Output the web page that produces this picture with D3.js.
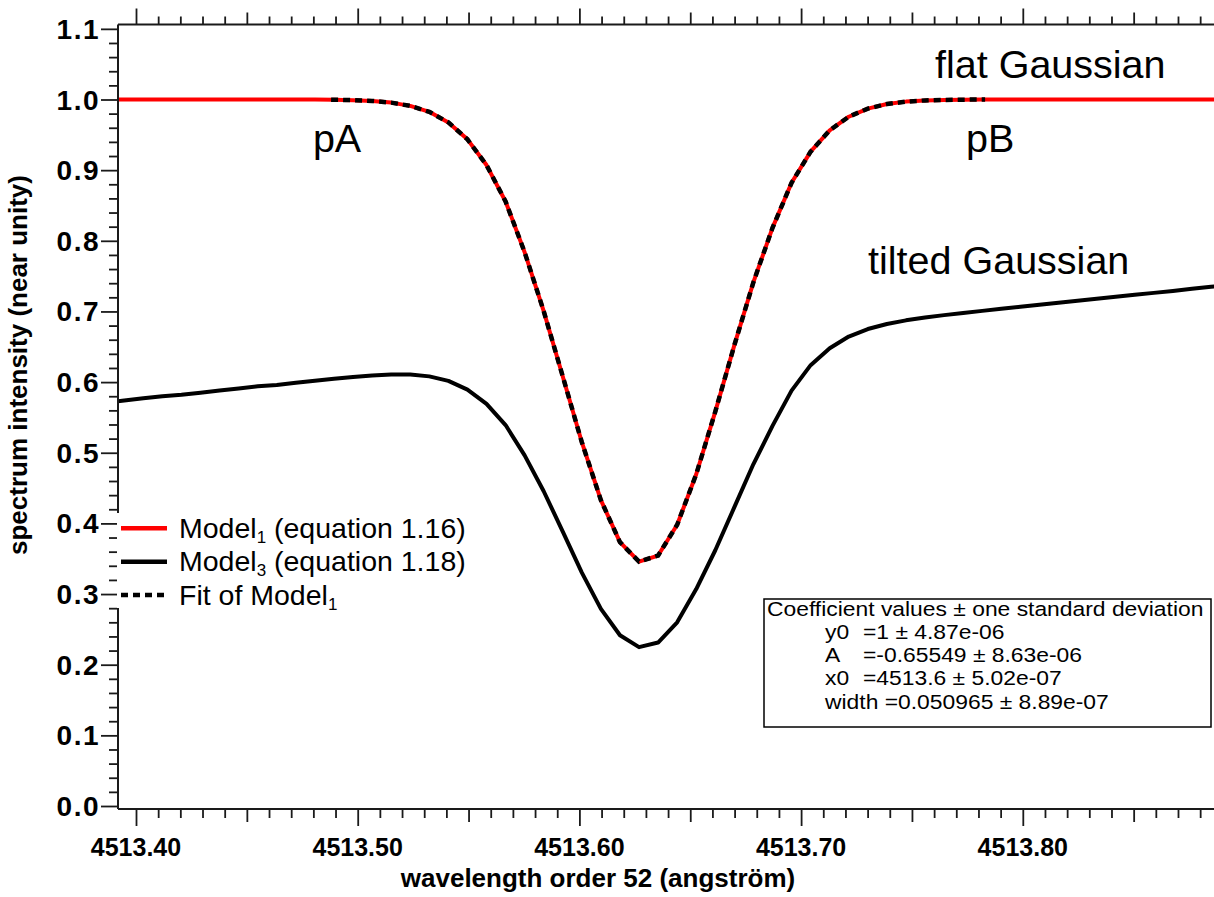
<!DOCTYPE html>
<html><head><meta charset="utf-8">
<script src="https://cdn.jsdelivr.net/npm/d3@7"></script>
<style>
body{margin:0;background:#fff;}
svg{display:block;font-family:"Liberation Sans",Arial,Helvetica,sans-serif;}
</style>
</head><body>
<svg id="chart" width="1214" height="897"></svg>
<script>
// ---------------- data ----------------
const wavelength = [
 4513.3775,4513.3861,4513.3947,4513.4033,4513.4119,4513.4205,4513.4291,4513.4377,4513.4463,4513.4549,
 4513.4635,4513.4721,4513.4807,4513.4893,4513.4979,4513.5065,4513.5151,4513.5237,4513.5323,4513.5409,
 4513.5495,4513.5581,4513.5667,4513.5753,4513.5839,4513.5925,4513.6011,4513.6097,4513.6183,4513.6269,
 4513.6355,4513.6441,4513.6527,4513.6613,4513.6699,4513.6785,4513.6871,4513.6957,4513.7043,4513.7129,
 4513.7215,4513.7301,4513.7387,4513.7473,4513.7559,4513.7645,4513.7731,4513.7817,4513.7903,4513.7989,
 4513.8075,4513.8161,4513.8247,4513.8333,4513.8419,4513.8505,4513.8591,4513.8677,4513.8763,4513.8849,
 4513.8935];
const model1 = [
 1.0000,1.0000,1.0000,1.0000,1.0000,1.0000,1.0000,1.0000,1.0000,1.0000,
 1.0000,0.9999,0.9999,0.9997,0.9991,0.9980,0.9956,0.9910,0.9825,0.9676,
 0.9436,0.9072,0.8557,0.7838,0.7005,0.6079,0.5149,0.4329,0.3734,0.3458,
 0.3545,0.3981,0.4696,0.5583,0.6524,0.7415,0.8183,0.8821,0.9262,0.9564,
 0.9756,0.9871,0.9936,0.9970,0.9987,0.9994,0.9998,0.9999,1.0000,1.0000,
 1.0000,1.0000,1.0000,1.0000,1.0000,1.0000,1.0000,1.0000,1.0000,1.0000,
 1.0000];
const model3 = [
 0.568,0.571,0.574,0.577,0.580,0.582,0.585,0.588,0.591,0.594,
 0.596,0.599,0.602,0.6047,0.6073,0.6094,0.6107,0.6107,0.6081,0.6017,
 0.5894,0.5692,0.5392,0.4963,0.4455,0.3884,0.3304,0.2790,0.2417,0.2248,
 0.2314,0.2600,0.3070,0.3620,0.4230,0.4840,0.5380,0.5880,0.6240,0.6480,
 0.6645,0.6751,0.6823,0.6874,0.6914,0.6948,0.6979,0.7008,0.7037,0.7065,
 0.7095,0.7123,0.7151,0.7179,0.7207,0.7235,0.7263,0.7291,0.7320,0.7348,
 0.7376];
const fitWavelength = [
 4513.4880,4513.4979,4513.5065,4513.5151,4513.5237,4513.5323,4513.5409,4513.5495,4513.5581,4513.5667,
 4513.5753,4513.5839,4513.5925,4513.6011,4513.6097,4513.6183,4513.6269,4513.6355,4513.6441,4513.6527,
 4513.6613,4513.6699,4513.6785,4513.6871,4513.6957,4513.7043,4513.7129,4513.7215,4513.7301,4513.7387,
 4513.7473,4513.7559,4513.7645,4513.7731,4513.7830];
const fitModel1 = [
 0.9997,0.9991,0.9980,0.9956,0.9910,0.9825,0.9676,0.9436,0.9072,0.8557,
 0.7838,0.7005,0.6079,0.5149,0.4329,0.3734,0.3458,0.3545,0.3981,0.4696,
 0.5583,0.6524,0.7415,0.8183,0.8821,0.9262,0.9564,0.9756,0.9871,0.9936,
 0.9970,0.9987,0.9994,0.9998,0.9999];

const xTickValues = [4513.40, 4513.50, 4513.60, 4513.70, 4513.80];
const yTickValues = [0.0, 0.1, 0.2, 0.3, 0.4, 0.5, 0.6, 0.7, 0.8, 0.9, 1.0, 1.1];
const xTitle = "wavelength order 52 (angström)";
const yTitle = "spectrum intensity (near unity)";
const legendItems = [
  {name: "Model", sub: "1", rest: " (equation 1.16)", color: "#ff0000", dash: null},
  {name: "Model", sub: "3", rest: " (equation 1.18)", color: "#000000", dash: null},
  {name: "Fit of Model", sub: "1", rest: "", color: "#000000", dash: "7,5"}
];
const annotations = [
  {text: "flat Gaussian", wl: 4513.7604, v: 1.0304},
  {text: "pA", wl: 4513.4798, v: 0.9263},
  {text: "pB", wl: 4513.7744, v: 0.9263},
  {text: "tilted Gaussian", wl: 4513.7302, v: 0.7530}
];
const coefTitle = "Coefficient values ± one standard deviation";
const coefNames = ["y0", "A", "x0", "width"];
const coefValues = ["=1 ± 4.87e-06", "=-0.65549 ± 8.63e-06", "=4513.6 ± 5.02e-07", "=0.050965 ± 8.89e-07"];

// ---------------- layout ----------------
const L = 118, R = 1214, T = 24.5, B = 809;
const xs = d3.scaleLinear().domain([4513.40, 4513.50]).range([136, 357.7]);
const x = d3.scaleLinear().domain([xs.invert(L), xs.invert(R)]).range([L, R]);
const ys = d3.scaleLinear().domain([0, 1]).range([806, 99.5]);
const y = d3.scaleLinear().domain([ys.invert(B), ys.invert(T)]).range([B, T]);

const svg = d3.select("#chart");
svg.append("defs").append("clipPath").attr("id","plot")
  .append("rect").attr("x",L).attr("y",T).attr("width",R-L).attr("height",B-T);

const AX = "#1a1a1a";
const xMinor = d3.range(0, 49).map(i => 4513.40 + i*0.01).filter(v => x(v) >= L && x(v) <= R);
const yMinor = d3.range(0, 56).map(i => i*0.02);

function xTickLen(v, major, mid, minor){
  const k = Math.round((v - 4513.40)/0.01);
  if (k % 10 === 0) return major;
  if (k % 5 === 0) return mid;
  return minor;
}

// bottom axis
const gBottom = svg.append("g").attr("transform", `translate(0,${B})`)
  .call(d3.axisBottom(x).tickValues(xMinor).tickSize(9).tickFormat(""));
gBottom.select(".domain").remove();
gBottom.selectAll(".tick line").attr("y2", d => xTickLen(d,17,13,9)).attr("stroke",AX).attr("stroke-width",1.8);
// top axis
const gTop = svg.append("g").attr("transform", `translate(0,${T})`)
  .call(d3.axisTop(x).tickValues(xMinor).tickSize(8).tickFormat(""));
gTop.select(".domain").remove();
gTop.selectAll(".tick line").attr("y2", d => -xTickLen(d,16,12,8)).attr("stroke",AX).attr("stroke-width",1.8);
// left axis
const gLeft = svg.append("g").attr("transform", `translate(${L},0)`)
  .call(d3.axisLeft(y).tickValues(yMinor).tickSize(9).tickFormat(""));
gLeft.select(".domain").remove();
gLeft.selectAll(".tick line").attr("x2", d => (Math.abs(d*10 - Math.round(d*10)) < 1e-6) ? -17 : -9)
  .attr("stroke",AX).attr("stroke-width",1.8);

// tick labels
svg.append("g").selectAll("text").data(xTickValues).join("text")
  .attr("x", d => x(d)).attr("y", 856).attr("text-anchor","middle")
  .attr("font-size", 25).attr("font-weight","bold").attr("fill","#000")
  .text(d => d3.format(".2f")(d));
svg.append("g").selectAll("text").data(yTickValues).join("text")
  .attr("x", 100).attr("y", d => y(d) + 10).attr("text-anchor","end")
  .attr("font-size", 28).attr("font-weight","bold").attr("letter-spacing", 1.5).attr("fill","#000")
  .text(d => d3.format(".1f")(d));

// axis titles
svg.append("text").attr("x", 598).attr("y", 887).attr("text-anchor","middle")
  .attr("font-size", 26).attr("font-weight","bold").text(xTitle);
svg.append("text").attr("transform", "translate(27,365) rotate(-90)").attr("text-anchor","middle")
  .attr("font-size", 26).attr("font-weight","bold").text(yTitle);

// curves
const line = d3.line().x(d => x(d[0])).y(d => y(d[1]));
const gPlot = svg.append("g").attr("clip-path","url(#plot)");
gPlot.append("path").datum(wavelength.map((w,i)=>[w, model3[i]]))
  .attr("d", line).attr("fill","none").attr("stroke","#000").attr("stroke-width",4).attr("stroke-linejoin","round");
gPlot.append("path").datum(wavelength.map((w,i)=>[w, model1[i]]))
  .attr("d", line).attr("fill","none").attr("stroke","#ff0000").attr("stroke-width",4).attr("stroke-linejoin","round");
gPlot.append("path").datum(fitWavelength.map((w,i)=>[w, fitModel1[i]]))
  .attr("d", line).attr("fill","none").attr("stroke","#000").attr("stroke-width",4.5)
  .attr("stroke-dasharray","7,5");

// axis lines
svg.append("line").attr("x1",L).attr("x2",R).attr("y1",B).attr("y2",B).attr("stroke",AX).attr("stroke-width",2);
svg.append("line").attr("x1",L).attr("x2",R).attr("y1",T).attr("y2",T).attr("stroke",AX).attr("stroke-width",2);
svg.append("line").attr("x1",L).attr("x2",L).attr("y1",T).attr("y2",B).attr("stroke",AX).attr("stroke-width",2);

// annotations
svg.append("g").selectAll("text").data(annotations).join("text")
  .attr("x", d => x(d.wl)).attr("y", d => y(d.v))
  .attr("font-size", 39.5).attr("fill","#000").text(d => d.text);

// legend
const gLeg = svg.append("g");
gLeg.append("rect").attr("x",117).attr("y",513).attr("width",365).attr("height",95).attr("fill","#fff");
const legText = gLeg.append("text").attr("font-size",28.5).attr("fill","#000");
legendItems.forEach((d,i) => {
  const cy = 528.3 + i*33.4;
  gLeg.append("line").attr("x1",121).attr("x2",167).attr("y1",cy).attr("y2",cy)
    .attr("stroke", d.color).attr("stroke-width", 4.5)
    .attr("stroke-dasharray", d.dash);
  legText.append("tspan").attr("x",179).attr("y",cy+9.5).text(d.name);
  legText.append("tspan").attr("font-size",17).attr("dy",5).text(d.sub);
  legText.append("tspan").attr("dy",-5).text(d.rest);
});

// coefficient box
const gCoef = svg.append("g");
gCoef.append("rect").attr("x",764).attr("y",599).attr("width",447).attr("height",128)
  .attr("fill","#fff").attr("stroke","#000").attr("stroke-width",1.5);
const gCoefText = gCoef.append("g").attr("transform","translate(767,0) scale(1.115,1) translate(-767,0)");
const fs = 20.5;
gCoefText.append("text").attr("x",767).attr("y",616).attr("font-size",fs).text(coefTitle);
coefNames.forEach((n,i) => {
  const by = 639 + i*23.2;
  const xn = 767 + (825-767)/1.115, xv = 767 + (863-767)/1.115;
  if (n === "width") {
    gCoefText.append("text").attr("x",xn).attr("y",by).attr("font-size",fs).text(n + " " + coefValues[i]);
  } else {
    gCoefText.append("text").attr("x",xn).attr("y",by).attr("font-size",fs).text(n);
    gCoefText.append("text").attr("x",xv).attr("y",by).attr("font-size",fs).text(coefValues[i]);
  }
});
</script>
</body></html>
